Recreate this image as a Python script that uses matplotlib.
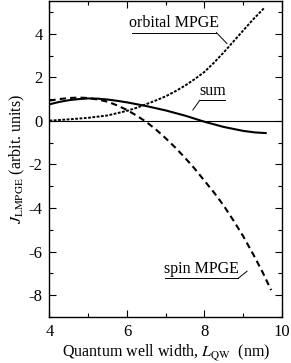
import numpy as np
import matplotlib
matplotlib.use('Agg')
import matplotlib.pyplot as plt
from matplotlib.ticker import MultipleLocator

plt.rcParams['font.family'] = 'Liberation Serif'
plt.rcParams['mathtext.fontset'] = 'stix'
plt.rcParams['axes.unicode_minus'] = False
plt.rcParams['lines.scale_dashes'] = False

# values (quantum well width in nm, current in arbit. units)
x_orbital = [4.0, 4.5, 5.0, 5.5, 6.0, 6.25, 6.5, 6.75, 7.0, 7.25, 7.5, 7.75,
             8.0, 8.25, 8.5, 8.75, 9.0, 9.25, 9.55]
y_orbital = [0.01, 0.07, 0.14, 0.25, 0.46, 0.6, 0.77, 0.94, 1.13, 1.36, 1.62, 1.92,
             2.25, 2.68, 3.15, 3.65, 4.15, 4.65, 5.2]

x_spin = [4.0, 4.25, 4.5, 4.75, 5.0, 5.25, 5.5, 5.75, 6.0, 6.25, 6.5, 6.75,
          7.0, 7.25, 7.5, 7.75, 8.0, 8.25, 8.5, 8.75, 9.0, 9.25, 9.5, 9.72]
y_spin = [0.93, 1.0, 1.05, 1.07, 1.05, 0.98, 0.88, 0.71, 0.5, 0.24, -0.05, -0.4,
          -0.8, -1.23, -1.7, -2.2, -2.75, -3.3, -3.9, -4.58, -5.3, -6.1, -6.95, -7.77]

x_sum = [4.0, 4.25, 4.5, 4.75, 5.0, 5.25, 5.5, 5.75, 6.0, 6.5, 7.0, 7.5,
         8.0, 8.5, 9.0, 9.3, 9.58]
y_sum = [0.76, 0.87, 0.95, 1.0, 1.03, 1.02, 0.98, 0.92, 0.85, 0.68, 0.48, 0.24,
         -0.04, -0.28, -0.46, -0.53, -0.56]

# curve labels: text, underline from x0 to x1 at height yu, leader from (xs, yu) to (xe, ye)
labels = [
    ('orbital MPGE', 6.12, 8.31, 4.05, 8.31, (8.58, 3.55)),
    ('sum', 7.88, 8.53, 0.95, 7.88, (7.70, 0.50)),
    ('spin MPGE', 6.98, 8.87, -7.23, 8.87, (9.10, -6.90)),
]

fig = plt.figure(figsize=(2.91, 3.63), dpi=100)
ax = fig.add_axes([0.170, 0.127, 0.799, 0.870])

ax.axhline(0, color='black', linewidth=0.8)
ax.plot(x_sum, y_sum, color='black', linewidth=1.5)
ax.plot(x_orbital, y_orbital, color='black', linewidth=1.4, linestyle=(0, (2.0, 1.1)))
ax.plot(x_spin, y_spin, color='black', linewidth=1.5, linestyle=(0, (4.5, 3.0)))

for text, x0, x1, yu, xs, (xe, ye) in labels:
    ax.text((x0 + x1) / 2, yu + 0.06, text, ha='center', va='bottom', fontsize=11.5)
    ax.plot([x0, x1], [yu, yu], color='black', linewidth=0.7)
    ax.plot([xs, xe], [yu, ye], color='black', linewidth=0.7)

ax.set_xlim(4, 10)
ax.set_ylim(-9, 5.5)
ax.xaxis.set_major_locator(MultipleLocator(2))
ax.xaxis.set_minor_locator(MultipleLocator(1))
ax.yaxis.set_major_locator(MultipleLocator(2))
ax.yaxis.set_minor_locator(MultipleLocator(1))
ax.tick_params(which='both', direction='in', top=True, right=True, width=0.8,
               labelsize=12)
ax.tick_params(which='major', length=5, pad=5)
ax.tick_params(which='minor', length=3)
for s in ax.spines.values():
    s.set_linewidth(1.0)

ax.set_xlabel(r'Quantum well width, $L_{\rm QW}$  (nm)', fontsize=11.5, labelpad=2)
ax.set_ylabel(r'$J_{\rm LMPGE}$ (arbit. units)', fontsize=11.5, labelpad=1)

fig.savefig('out.png', dpi=100)
